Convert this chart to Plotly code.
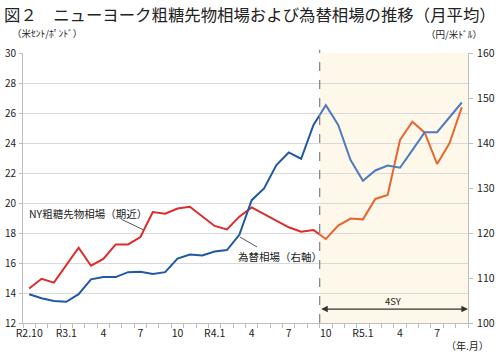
import plotly.graph_objects as go

# ---- data ----
tick_idx = [0, 3, 6, 9, 12, 15, 18, 21, 24, 27, 30, 33]
tick_labels = ["R2.10", "R3.1", "4", "7", "10", "R4.1", "4", "7", "10", "R5.1", "4", "7"]
sugar = [14.3, 14.95, 14.69, 15.87, 17.02, 15.82, 16.27, 17.24, 17.24, 17.73, 19.4, 19.29,
         19.63, 19.75, 19.09, 18.47, 18.24, 19.09, 19.71, 19.27, 18.82, 18.38, 18.09, 18.2,
         17.6, 18.49, 18.96, 18.91, 20.27, 20.53, 24.2, 25.42, 24.69, 22.6, 23.98, 26.38]
yen = [106.4, 105.5, 104.9, 104.7, 106.4, 109.7, 110.2, 110.2, 111.3, 111.4, 110.9, 111.3,
       114.3, 115.2, 115.0, 115.9, 116.2, 119.6, 127.3, 129.9, 135.1, 137.9, 136.5, 144.0,
       148.4, 144.0, 136.2, 131.6, 133.9, 135.0, 134.5, 138.4, 142.4, 142.4, 145.8, 149.0]
split = 24  # first month of the 4SY period (R4.10)

n = len(sugar)
xs = list(range(n))

W, H = 500, 352
L, R, T, B = 23.3, 32, 53, 29
pw, ph = W - L - R, H - T - B
def px(x):
    return (x - L) / pw
def py(y):
    return (H - B - y) / ph

FONT = "Noto Sans CJK JP"
d = split / n

fig = go.Figure()
# early period (clipped at period boundary by axis domain)
fig.add_trace(go.Scatter(x=xs[:split + 1], y=sugar[:split + 1], mode="lines",
                         line=dict(color="#dc2b2b", width=2), xaxis="x2", yaxis="y"))
fig.add_trace(go.Scatter(x=xs[:split + 1], y=yen[:split + 1], mode="lines",
                         line=dict(color="#1f58a5", width=2), xaxis="x2", yaxis="y2"))
# 4SY period
fig.add_trace(go.Scatter(x=xs[split - 1:], y=sugar[split - 1:], mode="lines",
                         line=dict(color="#e8652f", width=2), xaxis="x3", yaxis="y"))
fig.add_trace(go.Scatter(x=xs[split - 1:], y=yen[split - 1:], mode="lines",
                         line=dict(color="#4d7bbf", width=2), xaxis="x3", yaxis="y2"))

fig.update_layout(
    width=W, height=H,
    margin=dict(l=L, r=R, t=T, b=B, autoexpand=False),
    paper_bgcolor="white", plot_bgcolor="rgba(0,0,0,0)",
    showlegend=False,
    font=dict(family=FONT, size=10.5, color="#222"),
    xaxis=dict(domain=[0, 1], range=[-0.5, n - 0.5], tickmode="array",
               tickvals=tick_idx, ticktext=tick_labels, ticks="", showgrid=False,
               showline=True, linecolor="#bdbdbd", linewidth=1, zeroline=False,
               minor=dict(tickmode="linear", tick0=-0.5, dtick=1, ticks="outside",
                          ticklen=4, tickcolor="#bdbdbd", showgrid=False),
               tickfont=dict(size=10.5), anchor="y", automargin=False),
    xaxis2=dict(domain=[0, d], range=[-0.5, split - 0.5], visible=False, anchor="y",
                automargin=False),
    xaxis3=dict(domain=[d, 1], range=[split - 0.5, n - 0.5], visible=False, anchor="y",
                automargin=False),
    yaxis=dict(range=[12, 30], dtick=2, tick0=12, showgrid=True, gridcolor="#d9d9d9",
               gridwidth=1, showline=True, linecolor="#bdbdbd", ticks="outside",
               ticklen=3, tickcolor="#bdbdbd", zeroline=False, tickfont=dict(size=10),
               anchor="x", automargin=False, ticklabelstandoff=1),
    yaxis2=dict(range=[100, 160], dtick=10, tick0=100, overlaying="y", side="right",
                showgrid=False, showline=True, linecolor="#bdbdbd", ticks="outside",
                ticklen=4, tickcolor="#bdbdbd", zeroline=False, tickfont=dict(size=10.5),
                anchor="x", automargin=False, ticklabelstandoff=2),
)

# shaded 4SY region and dashed boundary
fig.add_shape(type="rect", xref="x", yref="paper", x0=split - 0.5, x1=n - 0.5, y0=0, y1=1,
              fillcolor="#fdf8ea", line=dict(width=0), layer="below")
fig.add_shape(type="line", xref="x", yref="paper", x0=split - 0.5, x1=split - 0.5, y0=0, y1=1.012,
              line=dict(color="#8a8a8a", width=1.3, dash="dash"), layer="above")

# leader lines
fig.add_shape(type="line", xref="x", yref="y", x0=7.47, y0=18.91, x1=9.27, y1=18.2,
              line=dict(color="#555", width=1))
fig.add_shape(type="line", xref="x", yref="y", x0=17.05, y0=17.73, x1=18.43, y1=17.07,
              line=dict(color="#555", width=1))

# 4SY arrow
fig.add_annotation(x=n - 0.5, y=12.93, ax=split - 0.5, ay=12.93, xref="x", yref="y",
                   axref="x", ayref="y", text="", showarrow=True, arrowhead=2,
                   arrowside="end+start", arrowsize=1.1, arrowwidth=1.2, arrowcolor="#333")
fig.add_annotation(x=(split - 0.5 + n - 0.5) / 2, y=13.5, xref="x", yref="y", text="4SY",
                   showarrow=False, font=dict(size=9.5, color="#222"))

# text
ann = [
    (2, 14, "図２　ニューヨーク粗糖先物相場および為替相場の推移（月平均）", 16.4, "left"),
    (10, 33, "（米ｾﾝﾄ/ﾎﾟﾝﾄﾞ）", 9.5, "left"),
    (484, 34, "（円/米ﾄﾞﾙ）", 9.5, "right"),
    (491, 345, "（年.月）", 10, "right"),
    (27, 213, "NY粗糖先物相場（期近）", 10.5, "left"),
    (236, 256, "為替相場（右軸）", 10.5, "left"),
]
for x, y, t, s, a in ann:
    fig.add_annotation(x=px(x), y=py(y), xref="paper", yref="paper", text=t,
                       showarrow=False, xanchor=a, yanchor="middle",
                       font=dict(size=s, color="#222", family=FONT))

fig.write_html("out.html")
